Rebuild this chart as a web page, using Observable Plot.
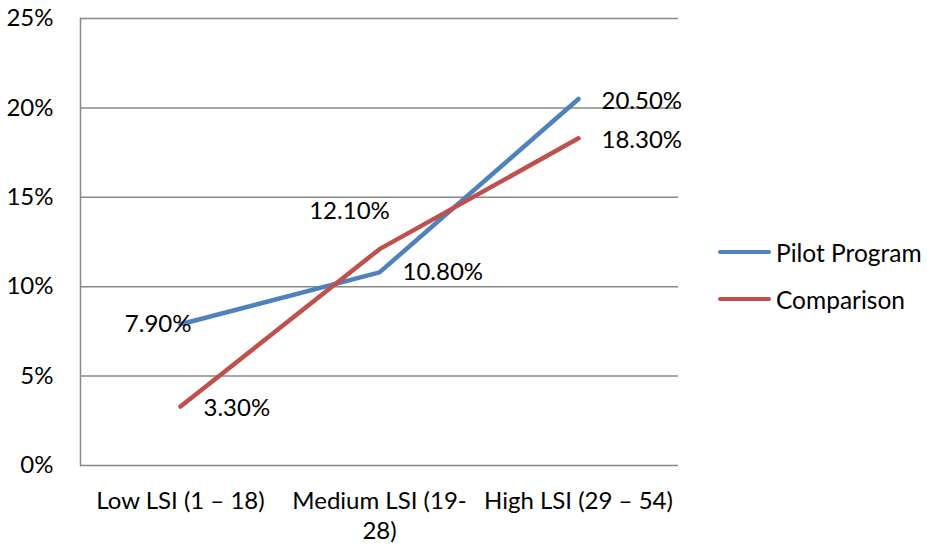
<!DOCTYPE html>
<html>
<head>
<meta charset="utf-8">
<script src="https://cdn.jsdelivr.net/npm/d3@7"></script>
<script src="https://cdn.jsdelivr.net/npm/@observablehq/plot@0.6"></script>
<style>
  html, body { margin: 0; padding: 0; background: #fff; }
  #wrap { position: relative; width: 927px; height: 548px; font-family: Lato, "Open Sans", sans-serif; }
  .leg { position: absolute; left: 718px; display: flex; align-items: center; font-size: 24.5px; color: #000; white-space: nowrap; }
  .leg span.sw { display: inline-block; width: 53px; height: 4px; border-radius: 2px; margin-right: 5px; }
</style>
</head>
<body>
<div id="wrap"></div>
<script>
const categories = ["Low LSI (1 – 18)", "Medium LSI (19-28)", "High LSI (29 – 54)"];
const tickLabels = ["Low LSI (1 – 18)", "Medium LSI (19-\n28)", "High LSI (29 – 54)"];
const seriesNames = ["Pilot Program", "Comparison"];
const pilot = [0.079, 0.108, 0.205];
const comparison = [0.033, 0.121, 0.183];
const yTicks = [0, 0.05, 0.10, 0.15, 0.20, 0.25];
const colors = ["#4F81BD", "#C0504D"];

const rows = [];
categories.forEach((c, i) => {
  rows.push({cat: c, series: seriesNames[0], value: pilot[i], idx: i});
  rows.push({cat: c, series: seriesNames[1], value: comparison[i], idx: i});
});
const fmt = d3.format(".2%");
const labelFont = {fontSize: 24, fill: "#000", fontFamily: "Lato, 'Open Sans', sans-serif"};

const chart = Plot.plot({
  width: 927,
  height: 548,
  marginLeft: 80,
  marginRight: 249,
  marginTop: 18,
  marginBottom: 83,
  style: {fontFamily: "Lato, 'Open Sans', sans-serif", fontSize: "24px", color: "#000", background: "#fff"},
  x: {type: "point", domain: categories, padding: 0.5, label: null},
  y: {domain: [0, 0.25], label: null},
  color: {domain: seriesNames, range: colors},
  marks: [
    Plot.gridY(yTicks, {stroke: "#888888", strokeOpacity: 1, strokeWidth: 1.5}),
    Plot.frame({anchor: "left", stroke: "#888888", strokeWidth: 1.5}),
    Plot.axisY({ticks: yTicks, tickSize: 0, tickPadding: 27, tickFormat: d3.format(".0%"), fontSize: 24, fill: "#000", label: null}),
    Plot.axisX({tickSize: 0, tickPadding: 22, tickFormat: (d) => tickLabels[categories.indexOf(d)], fontSize: 24, fill: "#000", lineHeight: 1.25, label: null}),
    Plot.line(rows, {x: "cat", y: "value", z: "series", stroke: "series", strokeWidth: 4.5, strokeLinecap: "round", strokeLinejoin: "round"}),
    // Pilot Low: left of point
    Plot.text(rows.filter(d => d.series === seriesNames[0] && d.idx === 0), {x: "cat", y: "value", text: d => fmt(d.value), textAnchor: "end", dx: 11, dy: 0, ...labelFont}),
    // Comparison Low: right of point
    Plot.text(rows.filter(d => d.series === seriesNames[1] && d.idx === 0), {x: "cat", y: "value", text: d => fmt(d.value), textAnchor: "start", dx: 23, dy: 2, ...labelFont}),
    // Comparison Medium: above
    Plot.text(rows.filter(d => d.series === seriesNames[1] && d.idx === 1), {x: "cat", y: "value", text: d => fmt(d.value), textAnchor: "middle", dx: -30, dy: -38, ...labelFont}),
    // Pilot Medium: right
    Plot.text(rows.filter(d => d.series === seriesNames[0] && d.idx === 1), {x: "cat", y: "value", text: d => fmt(d.value), textAnchor: "start", dx: 23, dy: 0, ...labelFont}),
    // High: right
    Plot.text(rows.filter(d => d.idx === 2), {x: "cat", y: "value", text: d => fmt(d.value), textAnchor: "start", dx: 23, dy: 2, ...labelFont})
  ]
});

const wrap = document.getElementById("wrap");
wrap.appendChild(chart);
seriesNames.forEach((name, i) => {
  const div = document.createElement("div");
  div.className = "leg";
  div.style.top = (i === 0 ? 252 - 15 : 299 - 15) + "px";
  div.style.height = "30px";
  const sw = document.createElement("span");
  sw.className = "sw";
  sw.style.background = colors[i];
  div.appendChild(sw);
  div.appendChild(document.createTextNode(name));
  wrap.appendChild(div);
});
</script>
</body>
</html>
